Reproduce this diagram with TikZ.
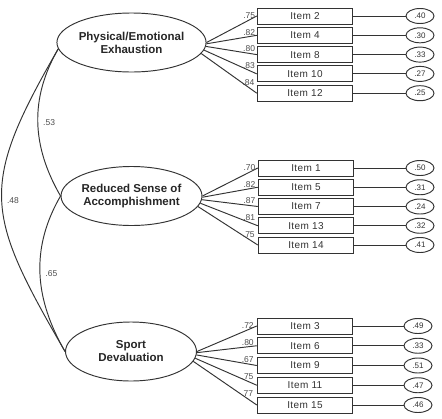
\documentclass[tikz,border=0pt]{standalone}
\usepackage{fontspec}
\setmainfont{Liberation Sans}
\usetikzlibrary{shapes.geometric}

\tikzset{
  factor/.style={draw=black!80, ellipse, minimum width=131pt, minimum height=59pt, inner sep=0pt,
                 align=center, font=\fontsize{11.5}{13}\selectfont\bfseries, text=black!85},
  itembox/.style={draw=black!80, minimum width=95.5pt, minimum height=16pt, inner sep=0pt,
                  font=\fontsize{10}{12}\selectfont\addfontfeatures{LetterSpace=4}, text=black!80},
  errnode/.style={draw=black!80, ellipse, minimum width=28pt, minimum height=15pt, inner sep=0pt,
                  font=\fontsize{8}{9}\selectfont, text=black!80},
  coef/.style={font=\fontsize{8.5}{9}\selectfont, text=black!70, inner sep=1pt},
}

\begin{document}
\begin{tikzpicture}[x=1pt,y=-1pt,line width=0.95pt,draw=black!80]
    \useasboundingbox (0,0) rectangle (442,418);

    \node[factor] (pe) at (131.5,42.5) {Physical/Emotional\\Exhaustion};
    \node[factor] (rs) at (131.5,196) {Reduced Sense of\\Accomphishment};
    \node[factor] (sd) at (131,351.5) {Sport\\Devaluation};

    % exhaustion items
    \foreach[count=\i] \n/\l/\e/\a in {2/.75/.40/0, 4/.82/.30/-1, 8/.80/.33/-3, 10/.83/.27/-6, 12/.84/.25/-9} {
        \node[itembox] (i\n) at (305,{16+19.3*(\i-1)}) {Item \n};
        \node[errnode] (e\n) at (420,{16+19.3*(\i-1)}) {\e};
        \draw (i\n) -- (e\n);
        \draw (pe.\a) -- node[coef,pos=0.85,above] {\l} (i\n.west);
    }

    % accomplishment items
    \foreach[count=\i] \n/\l/\e/\a in {1/.70/.50/0, 5/.82/.31/-1, 7/.87/.24/-3, 13/.81/.32/-6, 14/.75/.41/-9} {
        \node[itembox] (i\n) at (306,{168+19.25*(\i-1)}) {Item \n};
        \node[errnode] (e\n) at (420,{168+19.25*(\i-1)}) {\e};
        \draw (i\n) -- (e\n);
        \draw (rs.\a) -- node[coef,pos=0.85,above] {\l} (i\n.west);
    }

    % devaluation items
    \foreach[count=\i] \n/\l/\e/\a in {3/.72/.49/0, 6/.80/.33/-1, 9/.67/.51/-3, 11/.75/.47/-6, 15/.77/.46/-9} {
        \node[itembox] (i\n) at (305,{326+19.75*(\i-1)}) {Item \n};
        \node[errnode] (e\n) at (418,{326+19.75*(\i-1)}) {\e};
        \draw (i\n) -- (e\n);
        \draw (sd.\a) -- node[coef,pos=0.85,above] {\l} (i\n.west);
    }

    % correlations
    \draw (pe.185) to[out=240,in=120] node[coef,right=4pt] {.53} (rs.west);
    \draw (pe.185) to[out=240,in=120,looseness=1.35] node[coef,right=4pt] {.48} (sd.west);
    \draw (rs.west) to[out=240,in=120] node[coef,right=4pt] {.65} (sd.west);
\end{tikzpicture}
\end{document}
